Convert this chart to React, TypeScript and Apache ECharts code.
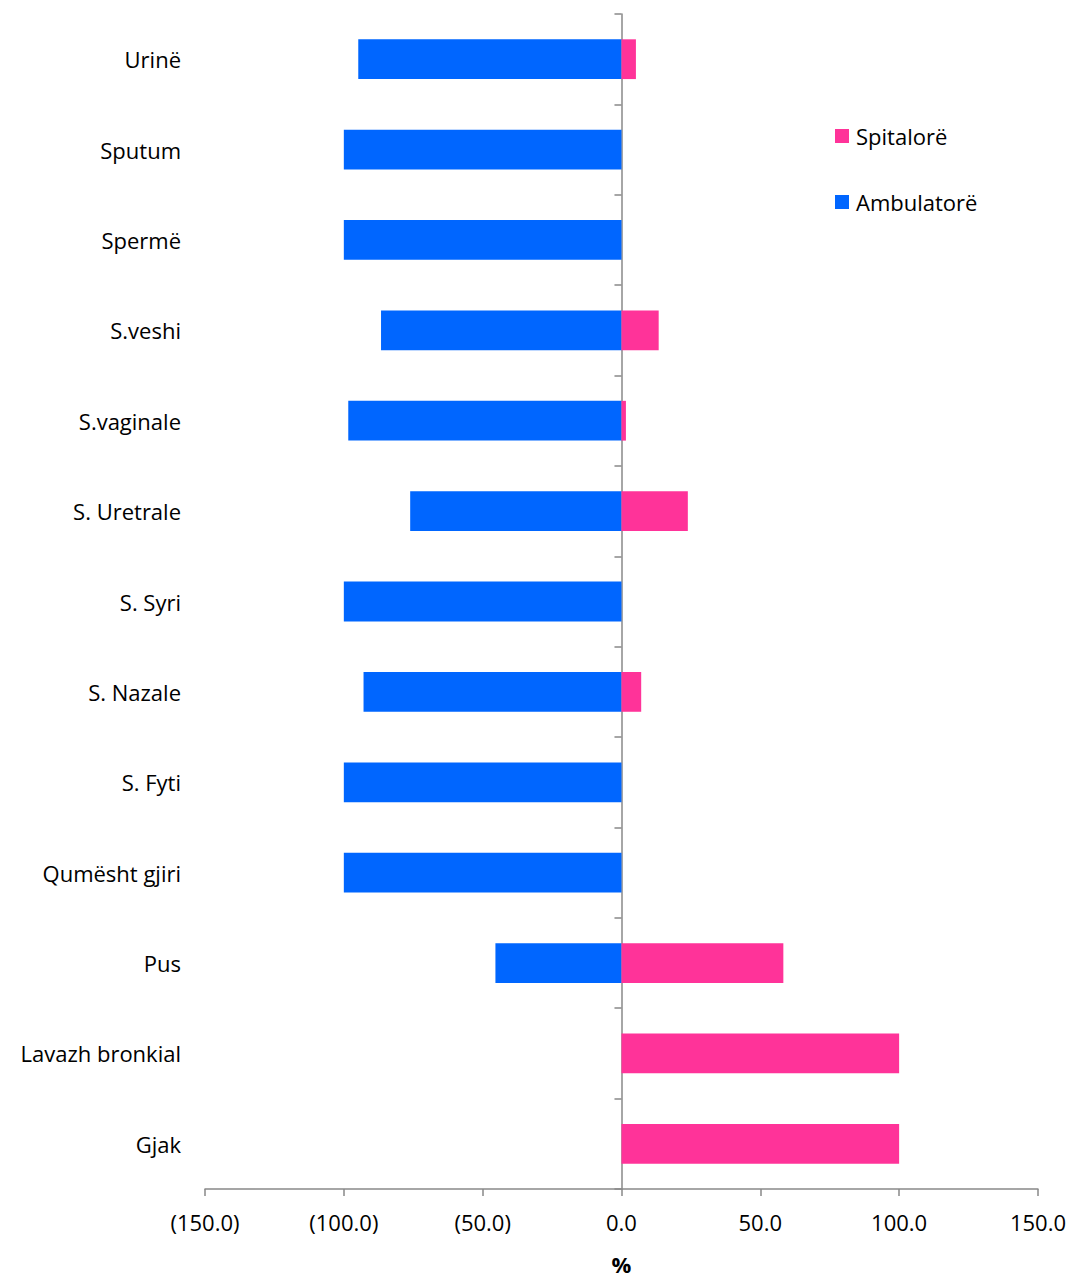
import React, { useEffect, useRef } from "react";
import * as echarts from "echarts";

const categories = [
  "Urinë",
  "Sputum",
  "Spermë",
  "S.veshi",
  "S.vaginale",
  "S. Uretrale",
  "S. Syri",
  "S. Nazale",
  "S. Fyti",
  "Qumësht gjiri",
  "Pus",
  "Lavazh bronkial",
  "Gjak",
];

const ambulatore = [-94.8, -100, -100, -86.6, -98.4, -76.1, -100, -92.9, -100, -100, -45.4, 0, 0];
const spitalore = [5.2, 0, 0, 13.4, 1.6, 23.9, 0, 7.1, 0, 0, 58.3, 100, 100];

const xTicks = { min: -150, max: 150, interval: 50 };

const FONT = "Open Sans";
const FS = 22;
const AXIS_COLOR = "#888888";

export default function App() {
  const ref = useRef<HTMLDivElement>(null);
  useEffect(() => {
    if (!ref.current) return;
    const chart = echarts.init(ref.current, null, { renderer: "svg" });
    chart.setOption({
      animation: false,
      textStyle: { fontFamily: FONT },
      grid: { left: 205, right: 29, top: 14, bottom: 85, containLabel: false },
      legend: {
        orient: "vertical",
        left: 835,
        top: 125,
        padding: 0,
        itemWidth: 14,
        itemHeight: 14,
        itemGap: 44,
        icon: "rect",
        data: ["Spitalorë", "Ambulatorë"],
        textStyle: { fontFamily: FONT, fontSize: FS, color: "#000", padding: [0, 0, 0, 2] },
      },
      xAxis: {
        type: "value",
        min: xTicks.min,
        max: xTicks.max,
        interval: xTicks.interval,
        name: "%",
        nameLocation: "middle",
        nameGap: 64,
        nameTextStyle: { fontFamily: FONT, fontSize: FS, fontWeight: "bold", color: "#000" },
        axisLine: { show: true, onZero: false, lineStyle: { color: AXIS_COLOR, width: 1.5 } },
        axisTick: { show: true, length: 7, lineStyle: { color: AXIS_COLOR, width: 1.5 } },
        splitLine: { show: false },
        axisLabel: {
          fontFamily: FONT,
          fontSize: FS,
          color: "#000",
          margin: 22,
          formatter: (v: number) => (v < 0 ? `(${Math.abs(v).toFixed(1)})` : v.toFixed(1)),
        },
      },
      yAxis: [
        {
          type: "category",
          data: categories,
          inverse: true,
          position: "left",
          axisLine: { show: false, onZero: false },
          axisTick: { show: false },
          axisLabel: { fontFamily: FONT, fontSize: FS, color: "#000", margin: 24 },
        },
        {
          type: "category",
          data: categories,
          inverse: true,
          position: "left",
          axisLine: { show: true, onZero: true, lineStyle: { color: AXIS_COLOR, width: 1.5 } },
          axisTick: { show: true, length: 7, lineStyle: { color: AXIS_COLOR, width: 1.5 } },
          axisLabel: { show: false },
        },
      ],
      series: [
        {
          name: "Ambulatorë",
          type: "bar",
          stack: "total",
          yAxisIndex: 0,
          data: ambulatore,
          barWidth: "44%",
          itemStyle: { color: "#0066FF" },
        },
        {
          name: "Spitalorë",
          type: "bar",
          stack: "total",
          yAxisIndex: 0,
          data: spitalore,
          barWidth: "44%",
          itemStyle: { color: "#FF3399" },
        },
      ],
    });
    return () => chart.dispose();
  }, []);
  return (
    <div
      ref={ref}
      style={{ position: "absolute", left: 0, top: 0, width: 1069, height: 1280 }}
    />
  );
}
